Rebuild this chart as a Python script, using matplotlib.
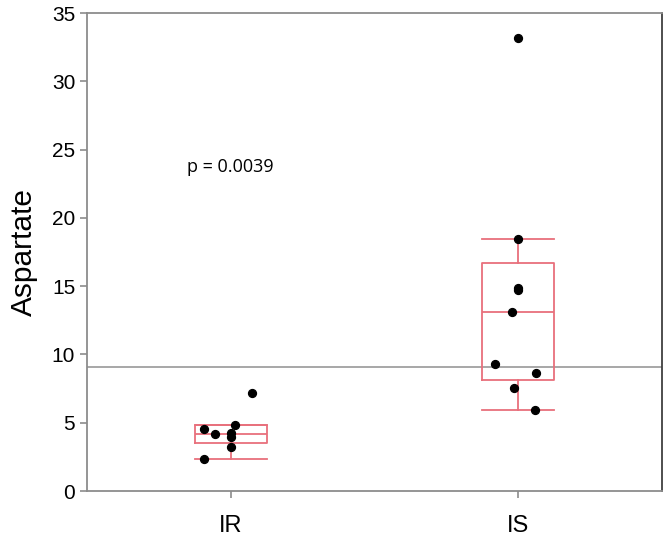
#!/usr/bin/env python3
"""aspartate box plot"""

import matplotlib
matplotlib.use("Agg")
import matplotlib.pyplot as plt

groups = ["IR", "IS"]

# box statistics: lower cap, q1, median, q3, upper cap
ir_box = [2.35, 3.5, 4.2, 4.85, 4.85]
is_box = [5.95, 8.1, 13.1, 16.7, 18.45]

# individual points and their horizontal jitter
ir_vals = [4.55, 4.2, 4.85, 4.25, 3.95, 3.25, 2.35, 7.2]
ir_jit = [-0.094, -0.056, 0.014, 0.0, 0.0, 0.0, -0.094, 0.073]
is_vals = [33.2, 18.45, 14.9, 14.7, 13.1, 9.3, 8.65, 7.55, 5.95]
is_jit = [0.0, 0.0, 0.0, 0.0, -0.02, -0.08, 0.063, -0.014, 0.06]

cutoff = 9.1
p_text = "p = 0.0039"


def main() -> None:
    fig = plt.figure(figsize=(6.69, 5.40), dpi=100)
    ax = fig.add_axes([0.130, 0.0907, 0.8595, 0.885])

    stats = []
    for b in (ir_box, is_box):
        stats.append({"whislo": b[0], "q1": b[1], "med": b[2], "q3": b[3],
                      "whishi": b[4], "fliers": []})

    red = "#e8707c"
    ax.bxp(stats, positions=[1, 2], widths=0.25, showfliers=False,
           boxprops=dict(color=red, lw=1.3),
           medianprops=dict(color=red, lw=1.3),
           whiskerprops=dict(color=red, lw=1.3),
           capprops=dict(color=red, lw=1.3), capwidths=0.25)

    ax.axhline(cutoff, color="#a0a0a0", lw=1.3, zorder=1)

    ax.scatter([1 + j for j in ir_jit], ir_vals, s=32, color="black", zorder=3)
    ax.scatter([2 + j for j in is_jit], is_vals, s=32, color="black", zorder=3)

    ax.text(1.0, 23.7, p_text, ha="center", va="center", fontsize=13,
            family="Open Sans")

    ax.set_xlim(0.5, 2.5)
    ax.set_ylim(0, 35)
    ax.set_yticks(range(0, 36, 5))
    ax.set_xticks([1, 2])
    ax.set_xticklabels(groups)

    for s in ax.spines.values():
        s.set_color("#8c8c8c")
        s.set_linewidth(1.3)
    ax.spines["right"].set_color("#404040")

    ax.tick_params(axis="y", labelsize=15, colors="#8c8c8c", labelcolor="black",
                   length=5, width=1.2)
    ax.tick_params(axis="x", labelsize=17, colors="#8c8c8c", labelcolor="black",
                   length=5, width=1.2, pad=12)
    for lab in ax.get_xticklabels() + ax.get_yticklabels():
        lab.set_family("Liberation Sans")

    ax.set_ylabel("Aspartate", fontsize=21.5, family="Liberation Sans", labelpad=10)

    fig.savefig("out.png")


if __name__ == "__main__":
    main()
